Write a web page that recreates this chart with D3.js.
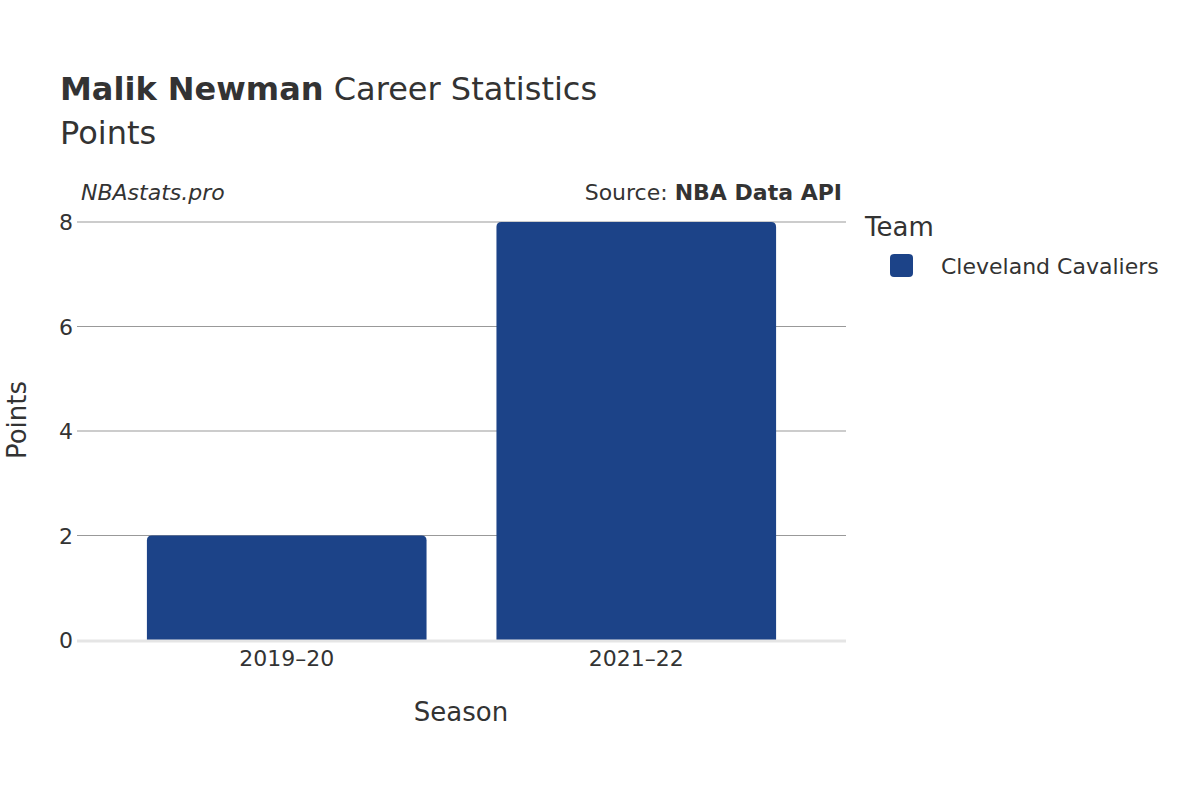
<!DOCTYPE html>
<html><head><meta charset="utf-8">
<script src="https://cdn.jsdelivr.net/npm/d3@7"></script>
<style>body{margin:0;background:#fff}text{font-family:"DejaVu Sans",sans-serif;fill:#333}</style>
</head><body><svg id="c" width="1200" height="800"></svg>
<script>
const seasons = ["2019–20","2021–22"];
const points = [2, 8];
const yTicks = [0,2,4,6,8];
const teamName = "Cleveland Cavaliers";
const barColor = "#1c4388";

const svg = d3.select("#c");
const L=77,R=846,T=222,B=640;
const x = d3.scaleBand().domain(seasons).range([L,R]).padding(0.2);
const y = d3.scaleLinear().domain([0,8]).range([B,T]);

yTicks.forEach(t=>{
  if(t>0) svg.append("line").attr("x1",L).attr("x2",R).attr("y1",y(t)).attr("y2",y(t)).attr("stroke","#999").attr("stroke-width",1);
  svg.append("text").attr("x",73).attr("y",y(t)+8).attr("text-anchor","end").attr("font-size",22).text(t);
});
const r=5;
seasons.forEach((s,i)=>{
  const x0=x(s), w=x.bandwidth(), y0=y(points[i]), h=B-y0;
  svg.append("path").attr("fill",barColor).attr("d",
    `M${x0},${B}V${y0+r}Q${x0},${y0} ${x0+r},${y0}H${x0+w-r}Q${x0+w},${y0} ${x0+w},${y0+r}V${B}Z`);
  svg.append("text").attr("x",x0+w/2).attr("y",666).attr("text-anchor","middle").attr("font-size",22).text(s);
});
svg.append("line").attr("x1",L).attr("x2",R).attr("y1",B+1).attr("y2",B+1).attr("stroke","#e5e5e5").attr("stroke-width",3);

svg.append("text").attr("x",60).attr("y",100).attr("font-size",32).html('<tspan font-weight="bold">Malik Newman</tspan> Career Statistics');
svg.append("text").attr("x",60).attr("y",144).attr("font-size",32).text("Points");
svg.append("text").attr("x",81).attr("y",200).attr("font-size",22).attr("font-style","italic").text("NBAstats.pro");
svg.append("text").attr("x",842).attr("y",200).attr("font-size",22).attr("text-anchor","end").html('Source: <tspan font-weight="bold">NBA Data API</tspan>');
svg.append("text").attr("x",461).attr("y",721).attr("font-size",26).attr("text-anchor","middle").text("Season");
svg.append("text").attr("transform","translate(26,420) rotate(-90)").attr("font-size",26).attr("text-anchor","middle").text("Points");
svg.append("text").attr("x",865).attr("y",236).attr("font-size",26).text("Team");
svg.append("rect").attr("x",890).attr("y",254).attr("width",23).attr("height",23).attr("rx",4).attr("fill",barColor);
svg.append("text").attr("x",941).attr("y",274).attr("font-size",22).text(teamName);
</script></body></html>
